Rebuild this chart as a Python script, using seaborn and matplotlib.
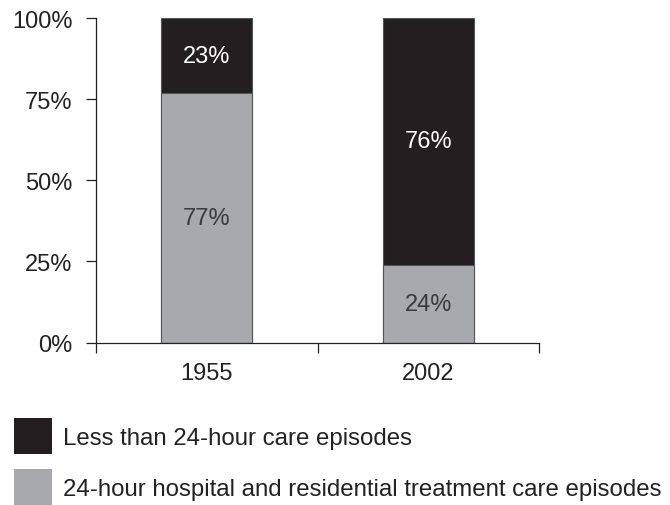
import matplotlib
matplotlib.use("Agg")
import matplotlib.pyplot as plt
import seaborn as sns
import pandas as pd
from matplotlib.patches import Patch
from matplotlib.ticker import FixedLocator, PercentFormatter

years = ["1955", "2002"]
less_than_24h = [23, 76]
hospital_residential = [77, 24]
series_names = [
    "Less than 24-hour care episodes",
    "24-hour hospital and residential treatment care episodes",
]

dark = "#231f20"
grey = "#a7a9ac"

sns.set_theme(style="white")
plt.rcParams["font.family"] = ["Liberation Sans", "DejaVu Sans"]

df = pd.DataFrame({
    "year": years,
    "less": less_than_24h,
    "hosp": hospital_residential,
})
df["total"] = df["less"] + df["hosp"]

fig = plt.figure(figsize=(6.7, 5.06), dpi=100)
ax = fig.add_axes([0.1433, 0.321, 0.6612, 0.641])

# stacked bars: full-height dark bar, grey lower segment on top of it
sns.barplot(data=df, x="year", y="total", color=dark, width=0.41,
            edgecolor="#555555", linewidth=0.8, saturation=1, ax=ax)
sns.barplot(data=df, x="year", y="hosp", color=grey, width=0.41,
            edgecolor="#555555", linewidth=0.8, saturation=1, ax=ax)

for i, row in df.iterrows():
    ax.text(i, row["hosp"] + row["less"] / 2, f"{row['less']}%",
            ha="center", va="center", color="white", fontsize=17)
    ax.text(i, row["hosp"] / 2, f"{row['hosp']}%",
            ha="center", va="center", color="#3a3a3a", fontsize=17)

ax.set_xlim(-0.5, 1.5)
ax.set_ylim(0, 100)
ax.set_xlabel("")
ax.set_ylabel("")
ax.yaxis.set_major_locator(FixedLocator([0, 25, 50, 75, 100]))
ax.yaxis.set_major_formatter(PercentFormatter(decimals=0))

# category boundary ticks on the x axis, labels centred without ticks
ax.set_xticks([0, 1])
ax.set_xticklabels(years)
ax.set_xticks([-0.5, 0.5, 1.5], minor=True)
ax.tick_params(axis="x", which="major", length=0, pad=14, labelsize=17,
               labelcolor="#222222")
ax.tick_params(axis="x", which="minor", length=7, width=0.9, direction="out",
               color="#222222", bottom=True)
ax.tick_params(axis="y", length=7, width=0.9, direction="out", left=True,
               color="#222222", labelsize=17, pad=10, labelcolor="#222222")

for side in ("top", "right"):
    ax.spines[side].set_visible(False)
for side in ("left", "bottom"):
    ax.spines[side].set_color("#222222")
    ax.spines[side].set_linewidth(0.9)

handles = [Patch(facecolor=dark, edgecolor="none"),
           Patch(facecolor=grey, edgecolor="none")]
fig.legend(handles, series_names, loc="upper left",
           bbox_to_anchor=(0.021, 0.172), frameon=False, fontsize=17.3,
           handlelength=1.58, handleheight=1.95, handletextpad=0.45,
           labelspacing=0.62, borderpad=0, borderaxespad=0,
           labelcolor="#222222")

fig.savefig("out.png", dpi=100, facecolor="white")
